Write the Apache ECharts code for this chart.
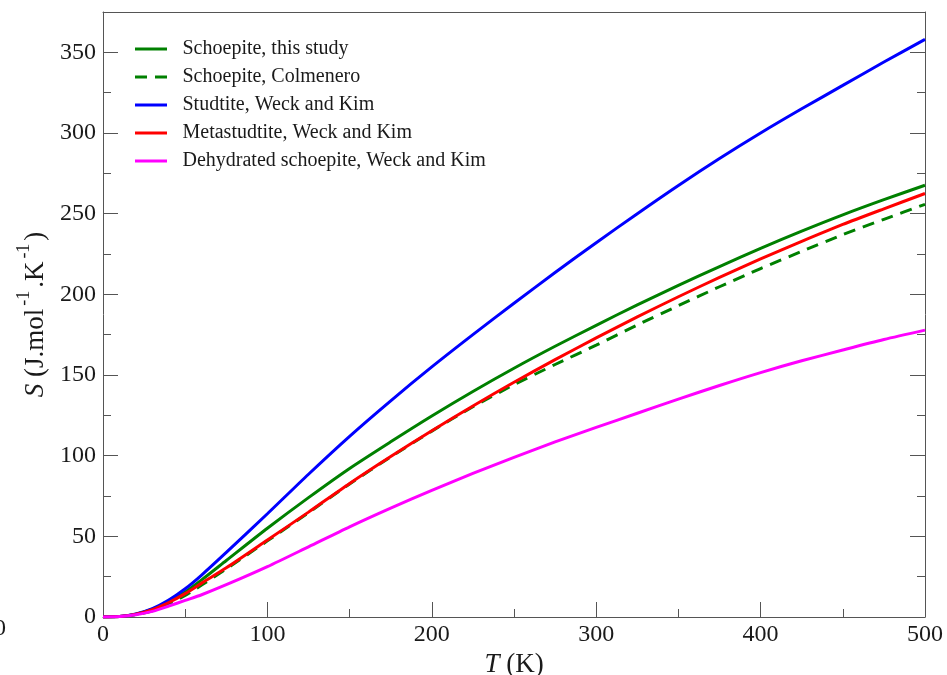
<!DOCTYPE html>
<html>
<head>
<meta charset="utf-8">
<script src="https://cdn.jsdelivr.net/npm/echarts@6/dist/echarts.min.js"></script>
<style>
html,body{margin:0;padding:0;background:#fff;}
#chart{width:947px;height:675px;}
</style>
</head>
<body>
<div id="chart"></div>
<script>
// Temperature grid (K)
const temps = [0,10,20,30,40,50,60,75,100,125,150,175,200,225,250,275,300,325,350,375,400,425,450,475,500];

// Entropy S (J/mol/K)
const schoepiteThisStudy = [0,0.3,1.7,4.8,9.5,15.5,23,35,55,74,92.1,108.6,124.6,139.8,154.2,167.8,180.8,193.5,205.5,217.2,228.5,239.2,249.3,258.7,267.6];
const schoepiteColmenero = [0,0.2,1.4,3.8,8,13.3,19.8,29.8,47.2,64.7,82.5,99.2,115.2,130.3,144,156.5,168.5,181,193,204.7,216,226.6,237,246.5,255.8];
const studtiteWeckKim    = [0,0.3,1.9,5.2,10.5,17.5,26,40,64,88.5,112,134,155,175,194.5,213.5,232,250,267.5,284.2,300,315,329.5,344,358];
const metastudtiteWeckKim= [0,0.3,1.8,4.6,9,14.5,21,30.5,47.7,65,82.8,99.5,115.5,130.8,145.5,159.5,173,186,198.5,210.5,222,232.8,243.3,253,262.5];
const dehydratedWeckKim  = [0,0.3,1.4,3.5,6.8,10.3,13.8,20,31.2,43.5,55.9,67.5,78.5,89,99,108.5,117.5,126.3,135,143.5,151.5,158.8,165.5,172,177.8];

const seriesNames = [
  'Schoepite, this study',
  'Schoepite, Colmenero',
  'Studtite, Weck and Kim',
  'Metastudtite, Weck and Kim',
  'Dehydrated schoepite, Weck and Kim'
];
const xTicks = [0,100,200,300,400,500];
const yTicks = [0,50,100,150,200,250,300,350];

const zip = arr => temps.map((t,i) => [t, arr[i]]);
const FONT = '"Liberation Serif", "DejaVu Serif", serif';
const AX = '#555';
const TXT = '#1a1a1a';

function mkLine(name, data, color, dashed) {
  return {
    name: name, type: 'line', data: zip(data),
    showSymbol: false, symbol: 'none',
    smooth: 0.25,
    lineStyle: {color: color, width: 3, type: dashed ? [12, 8] : 'solid'},
    itemStyle: {color: color},
    animation: false, z: 3
  };
}

const chart = echarts.init(document.getElementById('chart'), null, {renderer: 'canvas'});
const tickCommon = {
  axisLine: {show: true, onZero: false, lineStyle: {color: AX, width: 1}},
  axisTick: {show: true, inside: true, length: 15, lineStyle: {color: AX, width: 1}},
  minorTick: {show: true, splitNumber: 2, length: 8, lineStyle: {color: AX, width: 1}},
  splitLine: {show: false}
};
const solidIcon = 'path://M0,0H32V3H0Z';
const dashIcon = 'path://M0,0H12V3H0Z M20,0H32V3H20Z';
chart.setOption({
  animation: false,
  backgroundColor: '#fff',
  grid: {left: 103, right: 22, top: 12, bottom: 58, containLabel: false, outerBoundsMode: 'none'},
  legend: {
    orient: 'vertical', left: 130, top: 34,
    itemWidth: 33, itemHeight: 3, itemGap: 8,
    textStyle: {fontFamily: FONT, fontSize: 20, color: TXT, padding: [0,0,0,10], lineHeight: 20},
    data: seriesNames.map((n, i) => ({name: n, icon: i === 1 ? dashIcon : solidIcon}))
  },
  xAxis: [{
    type: 'value', min: 0, max: 500, interval: 100, position: 'bottom',
    ...tickCommon,
    axisLabel: {fontFamily: FONT, fontSize: 24, color: TXT, margin: 6,
      formatter: v => xTicks.includes(v) ? String(v) : ''},
    name: '{i|T} (K)', nameLocation: 'middle', nameGap: 32,
    nameTextStyle: {fontFamily: FONT, fontSize: 27, color: TXT,
      rich: {i: {fontFamily: FONT, fontSize: 27, fontStyle: 'italic', color: TXT}}}
  }, {
    type: 'value', min: 0, max: 500, interval: 100, position: 'top',
    axisLine: {show: true, onZero: false, lineStyle: {color: AX, width: 1}},
    axisTick: {show: false}, minorTick: {show: false}, splitLine: {show: false},
    axisLabel: {show: false}
  }],
  yAxis: [{
    type: 'value', min: 0, max: 375, interval: 50, position: 'left',
    ...tickCommon,
    axisLabel: {fontFamily: FONT, fontSize: 24, color: TXT, margin: 7,
      formatter: v => yTicks.includes(v) ? String(v) : ''},
    name: '{i|S} {n|(J.mol}{s|-1}{n|.K}{s|-1}{n|)}', nameLocation: 'middle', nameGap: 50, nameRotate: 90,
    nameTextStyle: {fontFamily: FONT, fontSize: 27, color: TXT,
      rich: {
        i: {fontFamily: FONT, fontSize: 27, fontStyle: 'italic', color: TXT, verticalAlign: 'bottom', lineHeight: 34},
        n: {fontFamily: FONT, fontSize: 27, color: TXT, verticalAlign: 'bottom', lineHeight: 34},
        s: {fontFamily: FONT, fontSize: 18, color: TXT, verticalAlign: 'top', lineHeight: 34, padding: [0, 3, 0, 3]}
      }}
  }, {
    type: 'value', min: 0, max: 375, interval: 50, position: 'right',
    ...tickCommon, axisLabel: {show: false}
  }],
  graphic: [{
    type: 'text', left: -6, top: 617,
    style: {text: '0', font: '24px ' + FONT, fill: TXT}
  }],
  series: [
    mkLine(seriesNames[0], schoepiteThisStudy, '#008000', false),
    mkLine(seriesNames[1], schoepiteColmenero, '#008000', true),
    mkLine(seriesNames[2], studtiteWeckKim, '#0000ff', false),
    mkLine(seriesNames[3], metastudtiteWeckKim, '#ff0000', false),
    mkLine(seriesNames[4], dehydratedWeckKim, '#ff00ff', false)
  ]
});
</script>
</body>
</html>
